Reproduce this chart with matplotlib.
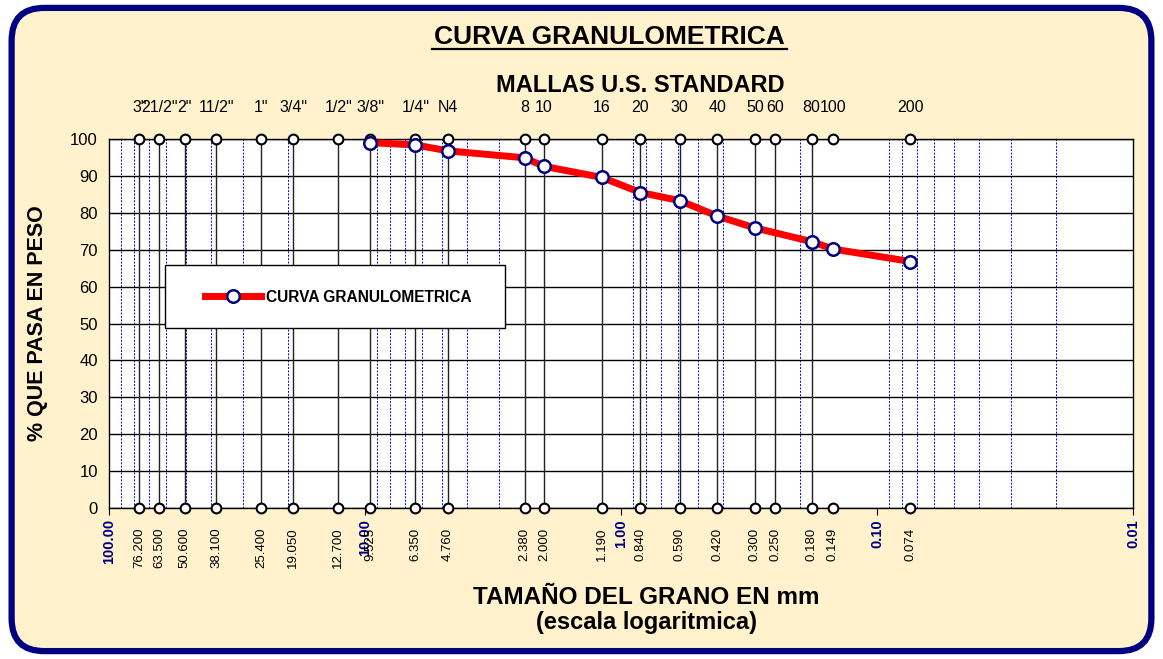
import matplotlib
matplotlib.use('Agg')
import matplotlib.pyplot as plt
from matplotlib.patches import FancyBboxPatch, Rectangle
from matplotlib.ticker import FixedLocator, NullFormatter, LogLocator

plt.rcParams['font.family'] = ['Liberation Sans', 'DejaVu Sans']

# sieve data
sieve_names = ['3"', '21/2"', '2"', '11/2"', '1"', '3/4"', '1/2"', '3/8"', '1/4"', 'N4',
               '8', '10', '16', '20', '30', '40', '50', '60', '80', '100', '200']
sieve_mm = [76.2, 63.5, 50.6, 38.1, 25.4, 19.05, 12.7, 9.525, 6.35, 4.76,
            2.38, 2.0, 1.19, 0.84, 0.59, 0.42, 0.3, 0.25, 0.18, 0.149, 0.074]

# grading curve
curve_mm = [9.525, 6.35, 4.76, 2.38, 2.0, 1.19, 0.84, 0.59, 0.42, 0.3, 0.18, 0.149, 0.074]
curve_pass = [99.0, 98.4, 96.8, 94.9, 92.6, 89.6, 85.5, 83.3, 79.1, 75.9, 72.2, 70.2, 66.8]

decades = [100, 10, 1, 0.1, 0.01]
decade_labels = ['100.00', '10.00', '1.00', '0.10', '0.01']

NAVY = '#000080'
CREAM = '#FFF2CC'

fig = plt.figure(figsize=(11.63, 6.59), dpi=100, facecolor='white')

# rounded background panel
bg = FancyBboxPatch((0.010, 0.012), 0.980, 0.976,
                    boxstyle='round,pad=0,rounding_size=0.028',
                    transform=fig.transFigure, facecolor=CREAM, edgecolor=NAVY,
                    linewidth=4.5, mutation_aspect=1163 / 659, zorder=-5)
fig.patches.append(bg)

ax = fig.add_axes([109 / 1163, 1 - 508 / 659, 1024 / 1163, 369 / 659])
ax.set_facecolor('white')
ax.set_xscale('log')
ax.set_xlim(100, 0.01)
ax.set_ylim(0, 100)

# minor blue grid
ax.xaxis.set_minor_locator(LogLocator(base=10, subs=range(2, 10)))
ax.xaxis.set_minor_formatter(NullFormatter())
ax.grid(which='minor', axis='x', color='#0000FF', linestyle=(0, (2, 1.5)), linewidth=0.7)
ax.set_yticks(range(0, 101, 10))
ax.grid(which='major', axis='y', color='black', linewidth=1)
ax.tick_params(axis='x', which='minor', length=0)

# sieve vertical lines and markers
for i, d in enumerate(sieve_mm):
    if sieve_names[i] not in ('100', '200'):
        ax.plot([d, d], [0, 100], color='#222222', linewidth=1, zorder=2)
ax.plot(sieve_mm, [100] * len(sieve_mm), linestyle='none', marker='o', markersize=7,
        markerfacecolor='white', markeredgecolor='black', markeredgewidth=1.5,
        clip_on=False, zorder=5)
ax.plot(sieve_mm, [0] * len(sieve_mm), linestyle='none', marker='o', markersize=7,
        markerfacecolor='white', markeredgecolor='black', markeredgewidth=1.5,
        clip_on=False, zorder=5)

# curve
ax.plot(curve_mm, curve_pass, color='#FF0000', linewidth=5, marker='o', markersize=9,
        markerfacecolor='white', markeredgecolor=NAVY, markeredgewidth=1.8,
        label='CURVA GRANULOMETRICA', zorder=6, clip_on=False)

for s in ax.spines.values():
    s.set_color('black')
    s.set_linewidth(1)

ax.xaxis.set_major_locator(FixedLocator(decades))
ax.set_xticklabels([])
ax.tick_params(axis='x', which='major', length=5, color='black', direction='out')
ax.tick_params(axis='y', length=0, labelsize=12, pad=8)

# decade labels
for d, lab in zip(decades, decade_labels):
    ax.annotate(lab, xy=(d, 0), xytext=(0, -8), textcoords='offset points',
                rotation=90, ha='center', va='top', fontsize=10.5, fontweight='bold',
                color=NAVY)

# sieve opening labels (bottom) and names (top)
for d, name in zip(sieve_mm, sieve_names):
    ax.annotate(f'{d:.3f}', xy=(d, 0), xytext=(0, -14), textcoords='offset points',
                rotation=90, ha='center', va='top', fontsize=9.5)
    ax.annotate(name, xy=(d, 100), xytext=(0, 17), textcoords='offset points',
                ha='center', va='bottom', fontsize=11.5)

# legend box
ax.add_patch(Rectangle((56 / 1024, (508 - 328) / 369), 340 / 1024, 63 / 369,
                       transform=ax.transAxes, facecolor='white', edgecolor='black',
                       linewidth=1, zorder=7))
leg = ax.legend(loc='center left', bbox_to_anchor=((205 - 109) / 1024, (508 - 297) / 369),
                prop={'weight': 'bold', 'size': 11.2}, frameon=False,
                borderpad=0, handlelength=3.6, handletextpad=0.35, borderaxespad=0)
leg.set_zorder(8)

fig.text(609 / 1163, 1 - 37 / 659, 'CURVA GRANULOMETRICA', ha='center', va='center',
         fontsize=19, fontweight='bold')
# underline
fig.add_artist(plt.Line2D([432 / 1163, 787 / 1163], [1 - 49 / 659, 1 - 49 / 659],
                          color='black', linewidth=1.6))
fig.text(640 / 1163, 1 - 86 / 659, 'MALLAS U.S. STANDARD', ha='center', va='center',
         fontsize=17, fontweight='bold')
fig.text(646 / 1163, 1 - 597 / 659, 'TAMAÑO DEL GRANO EN mm', ha='center', va='center',
         fontsize=17.5, fontweight='bold')
fig.text(646 / 1163, 1 - 623 / 659, '(escala logaritmica)', ha='center', va='center',
         fontsize=17, fontweight='bold')
fig.text(38 / 1163, 1 - 323 / 659, '% QUE PASA EN PESO', ha='center', va='center',
         rotation=90, fontsize=15.5, fontweight='bold')

fig.savefig('out.png', dpi=100, facecolor='white')
